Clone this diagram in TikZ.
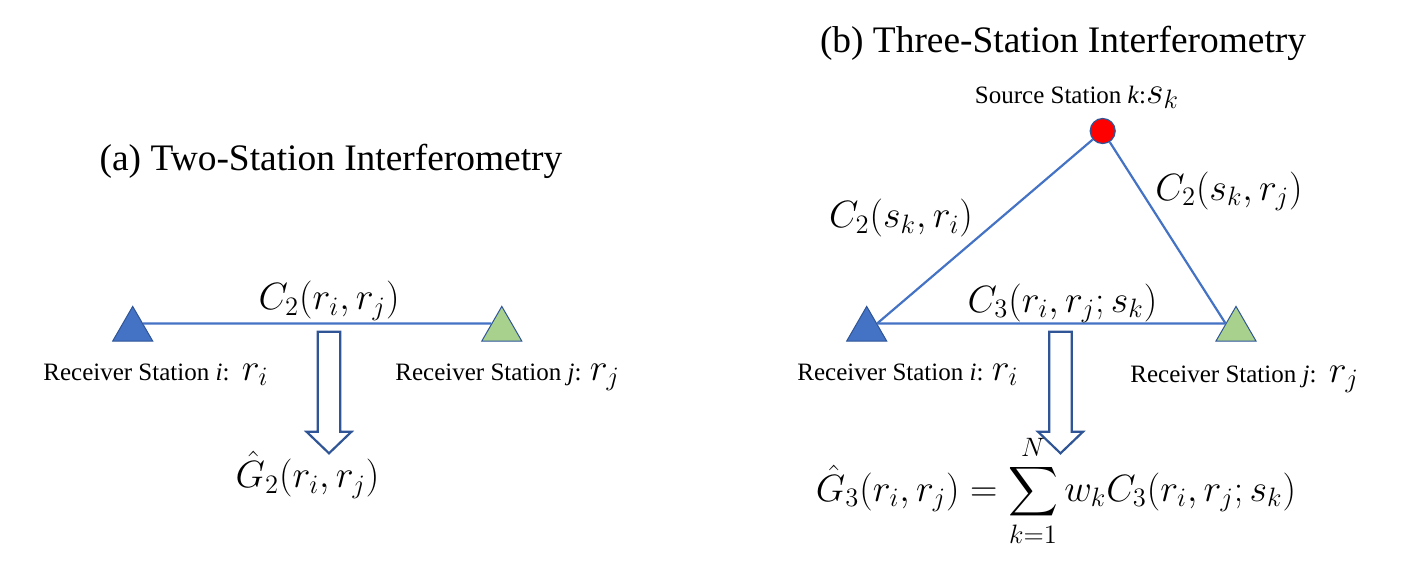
\RequirePackage{fix-cm}
\documentclass[tikz,border=0pt]{standalone}
\usepackage{exscale}
\usepackage[no-math]{fontspec}
\setmainfont{Liberation Serif}
\usetikzlibrary{positioning,calc,shapes.geometric}
\definecolor{stblue}{HTML}{4472C4}
\definecolor{stgreen}{HTML}{A9D18E}
\definecolor{edgeblue}{HTML}{2F5597}
\newcommand{\mth}[1]{{\fontsize{19}{23}\selectfont$#1$}}

\begin{document}
\begin{tikzpicture}[x=0.5pt, y=-0.5pt,
    station/.style={regular polygon, regular polygon sides=3, minimum size=23.1pt, inner sep=0pt, draw=edgeblue, line width=0.5pt},
    recv i/.style={station, fill=stblue},
    recv j/.style={station, fill=stgreen},
    source/.style={circle, fill=red, draw=edgeblue, line width=0.6pt, minimum size=12.5pt, inner sep=0pt},
    link/.style={draw=stblue, line width=1.1pt},
    hollow/.style={draw=edgeblue, line width=1.1pt, fill=white},
    ttl/.style={font=\fontsize{18.7}{22}\selectfont, anchor=base},
    lbl/.style={font=\fontsize{12.5}{15}\selectfont, anchor=base west, inner sep=0pt},
    eq/.style={font=\fontsize{19}{23}\selectfont, anchor=base, inner sep=0pt}
  ]
  \useasboundingbox (0,0) rectangle (1426,568);

  % (a) two stations
  \node[ttl] (ttla) at (331,170) {(a) Two-Station Interferometry};
  \node[recv i] (ria) at (132.7,329.5) {};
  \node[recv j] (rja) at (501.8,329.5) {};
  \draw[link] (ria.side 3) -- (rja.side 1);
  \node[eq] (c2a) at (329,309.5) {$C_2(r_i,r_j)$};
  \node[lbl] (lia) at (43,380) {Receiver Station \textit{i}:\ \ \mth{r_i}};
  \node[lbl] (lja) at (395,380) {Receiver Station \textit{j}: \mth{r_j}};
  \coordinate (arra) at (329,331.7);
  \draw[hollow] (arra) ++(-11.3,0) -- ++(0,100) -- ++(-11.2,0) -- ++(22.5,21.6)
    -- ++(22.5,-21.6) -- ++(-11.2,0) -- ++(0,-100) -- cycle;
  \node[eq] (g2) at (307.5,487.5) {$\hat{G}_2(r_i,r_j)$};

  % (b) three stations
  \node[ttl] (ttlb) at (1063,52) {(b) Three-Station Interferometry};
  \node[source] (sk) at (1102.7,131) {};
  \node[lbl, anchor=base] (lsk) at (1077,103) {Source Station \textit{k}:\mth{s_k}};
  \node[recv i] (rib) at (866.7,329.5) {};
  \node[recv j] (rjb) at (1236,329.5) {};
  \draw[link] (rib.side 3) -- (rjb.side 1);
  \draw[link] (sk) -- (rib.side 3);
  \draw[link] (sk) -- (rjb.side 1);
  \node[eq] (c2ki) at (901,227.5) {$C_2(s_k,r_i)$};
  \node[eq] (c2kj) at (1229,200) {$C_2(s_k,r_j)$};
  \node[eq] (c3) at (1062.5,312) {$C_3(r_i,r_j;s_k)$};
  \node[lbl] (lib) at (797,380) {Receiver Station \textit{i}: \mth{r_i}};
  \node[lbl] (ljb) at (1130,382) {Receiver Station \textit{j}:\ \ \mth{r_j}};
  \coordinate (arrb) at (1060.5,331.7);
  \draw[hollow] (arrb) ++(-11.3,0) -- ++(0,100) -- ++(-11.2,0) -- ++(22.5,21.6)
    -- ++(22.5,-21.6) -- ++(-11.2,0) -- ++(0,-100) -- cycle;
  \node[eq] (g3) at (1056,501) {$\displaystyle \hat{G}_3(r_i,r_j)=\sum_{k=1}^{N} w_k C_3(r_i,r_j;s_k)$};

\end{tikzpicture}
\end{document}
